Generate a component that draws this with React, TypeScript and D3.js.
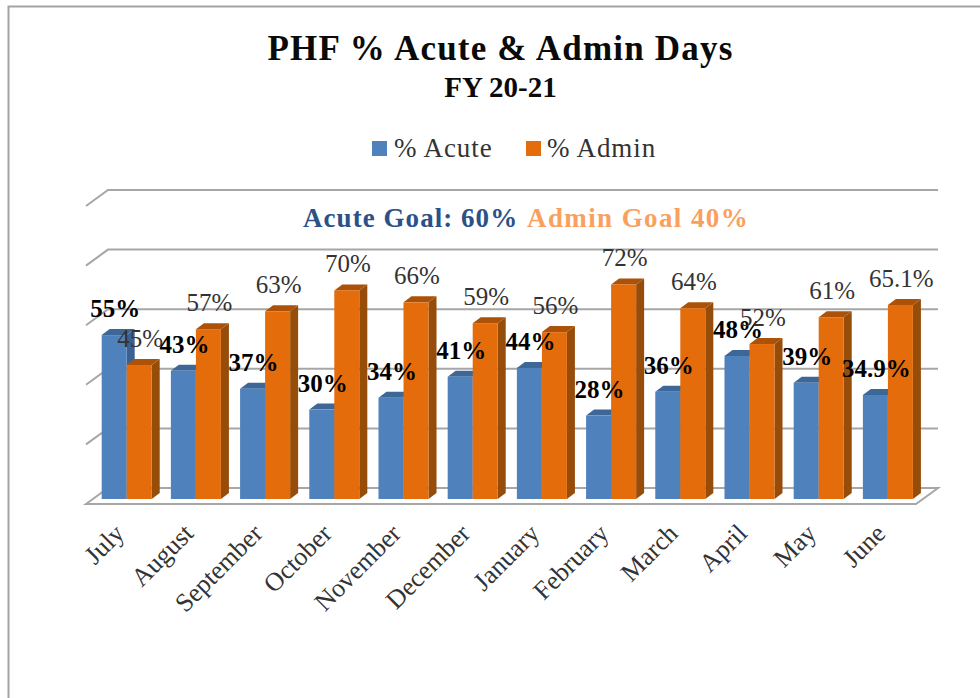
import React from "react";
import * as d3 from "d3";

const months = ["July","August","September","October","November","December","January","February","March","April","May","June"];
const seriesNames = ["% Acute","% Admin"];
const acute = [55,43,37,30,34,41,44,28,36,48,39,34.9];
const admin = [45,57,63,70,66,59,56,72,64,52,61,65.1];
const acuteLabels = ["55%","43%","37%","30%","34%","41%","44%","28%","36%","48%","39%","34.9%"];
const adminLabels = ["45%","57%","63%","70%","66%","59%","56%","72%","64%","52%","61%","65.1%"];
const gridTicks = [0,20,40,60,80,100];

const serif = "'Liberation Serif', serif";
const W = 980, H = 698;
const y = d3.scaleLinear().domain([0,100]).range([499,201]);
const x0 = d3.scaleBand<string>().domain(months).range([92.1,922.5]).paddingInner(0.277).paddingOuter(0.1385);
const x1 = d3.scaleBand<string>().domain(seriesNames).range([0,x0.bandwidth()]);
const DX = 8, DY = 6;
const gridDX = 22, gridDY = 16, gridLeft = 86, gridRight = 916, gridBase = 5;
const styles = [
  { front:"#4f81bd", top:"#3c6797", side:"#3b6190", stroke:"#6f9bd1" },
  { front:"#e46c0a", top:"#ab5208", side:"#974d0a", stroke:"#ee8a3a" },
];

function pts(a: number[][]) { return a.map(p=>p.join(",")).join(" "); }

function Bar({ x, w, v, s }: { x:number; w:number; v:number; s:typeof styles[0] }) {
  const t = y(v), b = y(0);
  return <g>
    <polygon points={pts([[x+w,t],[x+w+DX,t-DY],[x+w+DX,b-DY],[x+w,b]])} fill={s.side}/>
    <polygon points={pts([[x,t],[x+DX,t-DY],[x+w+DX,t-DY],[x+w,t]])} fill={s.top}/>
    <rect x={x} y={t} width={w} height={b-t} fill={s.front}/>
  </g>;
}

export default function App() {
  const series = [acute, admin];
  const labels = [acuteLabels, adminLabels];
  return (
    <svg width={W} height={H} style={{position:"absolute",left:0,top:0,display:"block",background:"#fff"}} fontFamily={serif}>
      <path d="M8.5 698V6.5H980" fill="none" stroke="#a3a3a3" strokeWidth={2}/>
      <text x={500.5} y={60} textAnchor="middle" fontSize={35} fontWeight="bold" letterSpacing={1.2} fill="#0a0a0a">PHF % Acute &amp; Admin Days</text>
      <text x={500.5} y={97} textAnchor="middle" fontSize={29} fontWeight="bold" fill="#0a0a0a">FY 20-21</text>

      <rect x={372} y={141} width={15} height={15} fill={styles[0].front}/>
      <text x={394} y={157} fontSize={27} letterSpacing={0.9} fill="#333">{seriesNames[0]}</text>
      <rect x={526} y={141} width={15} height={15} fill={styles[1].front}/>
      <text x={547} y={157} fontSize={27} letterSpacing={0.9} fill="#333">{seriesNames[1]}</text>

      {gridTicks.filter(t=>t>0).map(t=>{
        const yb = y(t)-gridBase-6;
        return <polyline key={t} points={pts([[gridLeft,yb+gridDY],[gridLeft+gridDX,yb],[gridRight+gridDX,yb]])} fill="none" stroke="#a6a6a6" strokeWidth={2}/>;
      })}
      {(()=>{ const yb=y(0)-gridBase-6; return <polygon points={pts([[gridLeft,yb+gridDY],[gridLeft+gridDX,yb],[gridRight+gridDX,yb],[gridRight,yb+gridDY]])} fill="#fff" stroke="#a6a6a6" strokeWidth={2}/>; })()}

      <text x={303} y={227} fontSize={27} letterSpacing={1.05} fontWeight="bold" fill="#2a5288">Acute Goal: 60%</text>
      <text x={527} y={227} fontSize={27} letterSpacing={1.4} fontWeight="bold" fill="#f9a05e">Admin Goal 40%</text>

      {months.map((m,i)=><g key={m}>
        {seriesNames.map((n,j)=><Bar key={n} x={(x0(m) as number)+(x1(n) as number)} w={x1.bandwidth()} v={series[j][i]} s={styles[j]}/>)}
      </g>)}

      {months.map((m,i)=>seriesNames.map((n,j)=>{
        const cx=(x0(m) as number)+(x1(n) as number)+x1.bandwidth()/2+1;
        return <text key={m+n} x={cx} y={y(series[j][i])-18} textAnchor="middle" fontSize={j===0?25:25} fontWeight={j===0?"bold":"normal"} fill={j===0?"#000":"#333"}>{labels[j][i]}</text>;
      }))}

      {months.map(m=>{
        const cx=(x0(m) as number)+x0.bandwidth()/2;
        const ax=cx-1, ay=535;
        return <text key={m} transform={`translate(${ax},${ay}) rotate(-45)`} textAnchor="end" fontSize={26} fill="#333">{m}</text>;
      })}
    </svg>
  );
}
